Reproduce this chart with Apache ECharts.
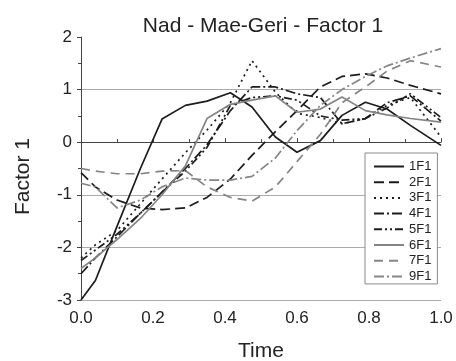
<!DOCTYPE html>
<html>
<head>
<meta charset="utf-8">
<script src="https://cdn.jsdelivr.net/npm/echarts@6/dist/echarts.min.js"></script>
<style>
  html, body { margin: 0; padding: 0; background: #fff; }
  #chart { width: 456px; height: 361px; }
</style>
</head>
<body>
<div id="chart"></div>
<script>
// normalised time
const time = [0, 0.04, 0.1, 0.165, 0.225, 0.29, 0.35, 0.415, 0.475, 0.54, 0.6, 0.665, 0.725, 0.79, 0.85, 0.915, 1.0];

const f1 = [-3.0, -2.63, -1.6, -0.5, 0.44, 0.7, 0.78, 0.94, 0.67, 0.1, -0.19, 0.03, 0.51, 0.76, 0.63, 0.32, -0.06];
const f2 = [-0.58, -0.85, -1.1, -1.25, -1.28, -1.25, -1.05, -0.7, -0.25, 0.2, 0.6, 1.05, 1.25, 1.3, 1.22, 1.08, 0.92];
const f3 = [-2.2, -1.95, -1.68, -1.17, -0.7, -0.2, 0.23, 0.75, 1.55, 0.95, 0.55, 0.47, 0.35, 0.45, 0.7, 0.85, 0.1];
const f4 = [-2.5, -2.2, -1.8, -1.35, -0.95, -0.5, -0.05, 0.6, 1.05, 1.05, 0.92, 0.85, 0.35, 0.45, 0.75, 0.88, 0.4];
const f5 = [-2.25, -2.05, -1.75, -1.35, -0.95, -0.55, -0.1, 0.7, 0.85, 0.88, 0.8, 0.5, 0.42, 0.45, 0.65, 0.92, 0.47];
const f6 = [-2.4, -2.2, -1.85, -1.45, -1.0, -0.45, 0.45, 0.72, 0.8, 0.88, 0.57, 0.63, 0.86, 0.6, 0.52, 0.45, 0.38];
const f7 = [-0.5, -0.55, -0.6, -0.6, -0.55, -0.54, -0.85, -1.05, -1.12, -0.85, -0.37, 0.15, 0.75, 1.05, 1.35, 1.55, 1.43];
const f9 = [-0.78, -0.85, -1.25, -1.1, -0.85, -0.68, -0.72, -0.72, -0.65, -0.3, 0.22, 0.7, 1.0, 1.25, 1.45, 1.6, 1.78];

const names = ['1F1', '2F1', '3F1', '4F1', '5F1', '6F1', '7F1', '9F1'];
const values = [f1, f2, f3, f4, f5, f6, f7, f9];

const BLACK = '#1c1c1c';
const GRAY = '#858585';
const styles = [
    { color: BLACK, type: 'solid' },
    { color: BLACK, type: [10, 5] },
    { color: BLACK, type: [2, 4] },
    { color: BLACK, type: [10, 3, 2, 3] },
    { color: BLACK, type: [8, 3, 2, 3, 2, 3] },
    { color: GRAY, type: 'solid' },
    { color: GRAY, type: [9, 6] },
    { color: GRAY, type: [10, 3, 2, 3] }
];

const FONT = 'Liberation Sans, Arial, sans-serif';

const chart = echarts.init(document.getElementById('chart'));
chart.setOption({
    animation: false,
    backgroundColor: '#fff',
    title: {
        text: 'Nad - Mae-Geri - Factor 1',
        left: 258,
        textAlign: 'center',
        top: 11,
        textStyle: { fontFamily: FONT, fontSize: 21, fontWeight: 'normal', color: '#222' }
    },
    legend: {
        orient: 'vertical',
        left: 365,
        top: 153,
        data: names,
        itemWidth: 30,
        itemHeight: 14,
        itemGap: 2.7,
        padding: [7, 6, 1, 8],
        borderColor: '#8a8a8a',
        borderWidth: 1,
        backgroundColor: '#fff',
        // hide the marker dot, keep only the line sample
        itemStyle: { opacity: 0, color: 'rgba(0,0,0,0)', borderWidth: 0 },
        textStyle: { fontFamily: FONT, fontSize: 13, color: '#222' }
    },
    grid: { left: 81, right: 15, top: 37, bottom: 61, outerBoundsMode: 'none' },
    xAxis: {
        type: 'value',
        min: 0,
        max: 1,
        interval: 0.2,
        name: 'Time',
        nameLocation: 'middle',
        nameGap: 41,
        nameTextStyle: { fontFamily: FONT, fontSize: 21, color: '#222' },
        axisLine: { lineStyle: { color: '#444', width: 1 } },
        axisTick: { inside: true, length: 4, lineStyle: { color: '#444' } },
        minorTick: { show: true, splitNumber: 2, length: 3, lineStyle: { color: '#444' } },
        axisLabel: {
            margin: 10,
            fontFamily: FONT, fontSize: 17, color: '#222',
            formatter: v => v.toFixed(1)
        },
        splitLine: { show: false }
    },
    yAxis: {
        type: 'value',
        min: -3,
        max: 2,
        interval: 1,
        name: 'Factor 1',
        nameLocation: 'middle',
        nameGap: 47,
        nameRotate: 90,
        nameTextStyle: { fontFamily: FONT, fontSize: 21, color: '#222', padding: [0, 16, 0, 0] },
        axisLine: { show: true, lineStyle: { color: '#444', width: 1 } },
        axisTick: { show: true, length: 4, lineStyle: { color: '#444' } },
        minorTick: { show: true, splitNumber: 2, length: 3, lineStyle: { color: '#444' } },
        axisLabel: { margin: 9, fontFamily: FONT, fontSize: 17, color: '#222' },
        splitLine: {
            show: true,
            lineStyle: { color: ['#aaa', '#aaa', '#aaa', '#aaa', '#aaa', 'rgba(0,0,0,0)'], width: 1 }
        }
    },
    series: names.map((n, i) => ({
        name: n,
        type: 'line',
        symbol: 'none',
        data: time.map((t, k) => [t, values[i][k]]),
        lineStyle: { color: styles[i].color, type: styles[i].type, width: 1.7 },
        itemStyle: { color: styles[i].color }
    }))
});
</script>
</body>
</html>
